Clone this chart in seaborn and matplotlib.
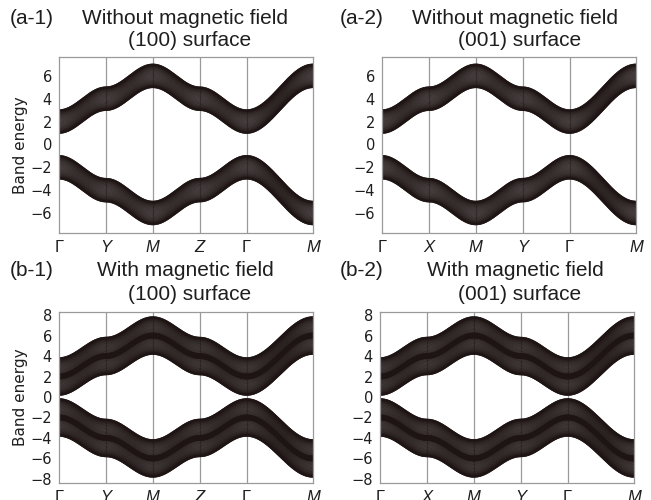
import numpy as np
import pandas as pd
import matplotlib
matplotlib.use("Agg")
import matplotlib.pyplot as plt
import seaborn as sns

# High-symmetry paths of the two surface Brillouin zones
path_100_labels = ["Γ", "Y", "M", "Z", "Γ", "M"]
path_001_labels = ["Γ", "X", "M", "Y", "Γ", "M"]
# in-plane node coordinates (units of π) shared by both paths
path_nodes_k1 = [0.0, 1.0, 1.0, 0.0, 0.0, 1.0]
path_nodes_k2 = [0.0, 0.0, 1.0, 1.0, 0.0, 1.0]

# Tight-binding parameters of the cubic model
onsite_energy = 4.0
hopping = 1.0
zeeman_split = [0.0, 0.8]          # without / with magnetic field
n_kperp = 41                       # projected k-points along the surface normal
pts_per_segment = 120

panel_tags = ["(a-1)", "(a-2)", "(b-1)", "(b-2)"]
panel_titles = ["Without magnetic field\n(100) surface",
                "Without magnetic field\n(001) surface",
                "With magnetic field\n(100) surface",
                "With magnetic field\n(001) surface"]
yticks_rows = [[-6, -4, -2, 0, 2, 4, 6], [-8, -6, -4, -2, 0, 2, 4, 6, 8]]
ylims_rows = [(-7.75, 7.65), (-8.4, 8.3)]

band_color = "#1e1414"
frame_color = "#9a9a9a"
text_color = "#1e1e1e"


def build_path():
    k1s, k2s, dist, ticks = [], [], [], [0.0]
    total = 0.0
    for i in range(len(path_nodes_k1) - 1):
        a = np.array([path_nodes_k1[i], path_nodes_k2[i]]) * np.pi
        b = np.array([path_nodes_k1[i + 1], path_nodes_k2[i + 1]]) * np.pi
        seg = np.linalg.norm(b - a)
        t = np.linspace(0, 1, pts_per_segment, endpoint=(i == len(path_nodes_k1) - 2))
        k1s.append(a[0] + (b[0] - a[0]) * t)
        k2s.append(a[1] + (b[1] - a[1]) * t)
        dist.append(total + seg * t)
        total += seg
        ticks.append(total)
    return (np.concatenate(k1s), np.concatenate(k2s),
            np.concatenate(dist) / np.pi, np.array(ticks) / np.pi)


k1, k2, kdist, tick_pos = build_path()
kperp = np.linspace(0, np.pi, n_kperp)


def band_frame(h):
    rows = []
    uid = 0
    for kz in kperp:
        eps = onsite_energy - hopping * (np.cos(k1) + np.cos(k2) + np.cos(kz))
        for sign in (1, -1):
            for s in ((1, -1) if h > 0 else (0,)):
                e = sign * eps + s * h
                rows.append(pd.DataFrame({"k": kdist, "E": e, "line": uid}))
                uid += 1
    return pd.concat(rows, ignore_index=True)


sns.set_style("white")
plt.rcParams["font.family"] = ["DejaVu Sans"]

fig = plt.figure(figsize=(6.51, 5.00), dpi=100)
W, H = 651.0, 500.0
# axes boxes in pixels: left, top, right, bottom
boxes = [(59, 57, 313, 233), (382, 57, 636, 233),
         (59, 312, 313, 483), (380, 312, 634, 483)]

for idx, (l, t, r, b) in enumerate(boxes):
    row = idx // 2
    ax = fig.add_axes([l / W, 1 - b / H, (r - l) / W, (b - t) / H])
    df = band_frame(zeeman_split[row])
    sns.lineplot(data=df, x="k", y="E", units="line", estimator=None,
                 color=band_color, lw=1.2, alpha=0.65, ax=ax, legend=False)
    for xp in tick_pos[1:-1]:
        ax.axvline(xp, color=frame_color, lw=0.9, zorder=0)
    ax.set_xlim(tick_pos[0], tick_pos[-1])
    ax.set_ylim(*ylims_rows[row])
    ax.set_yticks(yticks_rows[row])
    ax.set_yticklabels([f"{v}".replace("-", "−") for v in yticks_rows[row]],
                       fontsize=10.5, color=text_color, family=["DejaVu Sans"])
    labels = path_100_labels if idx % 2 == 0 else path_001_labels
    ax.set_xticks(tick_pos)
    ax.set_xticklabels(labels, fontsize=12, family=["Liberation Sans"],
                       color=text_color)
    for tl in ax.get_xticklabels():
        if tl.get_text() != "Γ":
            tl.set_fontstyle("italic")
    ax.tick_params(axis="both", direction="out", length=3.5, width=0.9,
                   color=frame_color, pad=1.5)
    ax.set_xlabel("")
    if idx % 2 == 0:
        ax.set_ylabel("Band energy", fontsize=11, labelpad=2, color=text_color,
                      family=["DejaVu Sans"])
    else:
        ax.set_ylabel("")
    for sp in ax.spines.values():
        sp.set_color(frame_color)
        sp.set_linewidth(0.9)

    # panel tag and two-line title
    x0 = 0 if idx % 2 == 0 else 330
    y0 = 0 if row == 0 else 253
    fig.text((x0 + 10) / W, 1 - (y0 + 18) / H, panel_tags[idx],
             fontsize=15, family=["Liberation Sans"], va="center", ha="left",
             color=text_color)
    line1, line2 = panel_titles[idx].split("\n")
    fig.text((x0 + 185) / W, 1 - (y0 + 18) / H, line1,
             fontsize=15, family=["Liberation Sans"], va="center", ha="center",
             color=text_color)
    fig.text((x0 + 190) / W, 1 - (y0 + 41) / H, line2,
             fontsize=15, family=["Liberation Sans"], va="center", ha="center",
             color=text_color)

fig.savefig("out.png", dpi=100, facecolor="white")
